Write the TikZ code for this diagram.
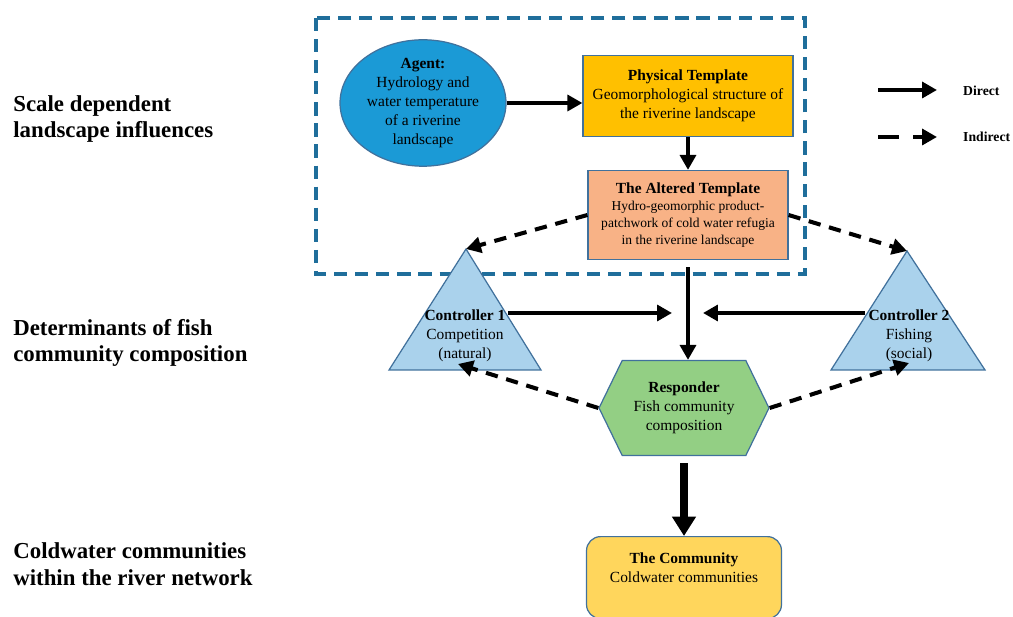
\documentclass[tikz,border=0pt]{standalone}
\usepackage{fontspec}
\setmainfont{Liberation Serif}
\usetikzlibrary{shapes.geometric,shapes.symbols,arrows.meta,positioning}

\definecolor{frameblue}{RGB}{31,110,155}
\definecolor{edgeblue}{RGB}{65,113,156}
\definecolor{agentblue}{RGB}{27,154,214}
\definecolor{physgold}{RGB}{255,192,0}
\definecolor{altpeach}{RGB}{248,178,134}
\definecolor{ctrlblue}{RGB}{170,210,236}
\definecolor{respgreen}{RGB}{147,207,132}
\definecolor{commyellow}{RGB}{255,214,92}

\tikzset{
  txt/.style={align=center, font=\fontsize{8.8}{10.8}\selectfont},
  box/.style={txt, draw=edgeblue, line width=0.7pt, inner sep=1pt},
  ctrlshape/.style={fill=ctrlblue, draw=edgeblue, line width=0.7pt},
  sidelabel/.style={anchor=west, align=left, inner sep=0pt, font=\bfseries\fontsize{13}{15.2}\selectfont},
  keylabel/.style={anchor=west, font=\bfseries\fontsize{7.8}{9}\selectfont},
  dashframe/.style={draw=frameblue, line width=1.8pt, dash pattern=on 7.5pt off 4.5pt},
  direct/.style={-{Triangle[length=8.5pt,width=9pt]}, line width=2.3pt},
  indirect/.style={direct, dash pattern=on 7pt off 5pt},
  heavy/.style={-{Triangle[length=11pt,width=13pt]}, line width=4pt},
}

\begin{document}
\begin{tikzpicture}[x=0.02cm, y=-0.02cm]
    \useasboundingbox (0,0) rectangle (1013,617);
    \clip (0,0) rectangle (1013,617);

    \node[sidelabel] (scale) at (13,119) {Scale dependent\\landscape influences};
    \node[sidelabel] (determ) at (13,343) {Determinants of fish\\community composition};
    \node[sidelabel] (cold) at (13,564) {Coldwater communities\\within the river network};

    \draw[dashframe] (316,18) rectangle (805,274);

    \node[box, ellipse, fill=agentblue, minimum width=3.32cm, minimum height=2.1cm, inner sep=0pt] (agent) at (423,103)
        {\textbf{Agent:}\\Hydrology and\\water temperature\\of a riverine\\landscape};
    \node[box, fill=physgold, minimum width=4.2cm, minimum height=1.62cm] (phys) at (688,96)
        {\textbf{Physical Template}\\Geomorphological structure of\\the riverine landscape};
    \node[box, fill=altpeach, minimum width=4.0cm, minimum height=1.78cm, font=\fontsize{7.7}{9.6}\selectfont] (alt) at (688,215)
        {\textbf{\fontsize{8.8}{12}\selectfont The Altered Template}\\Hydro-geomorphic product-\\patchwork of cold water refugia\\in the riverine landscape};

    \coordinate (c1 apex) at (466,249);
    \coordinate (c1 left) at (389,370);
    \coordinate (c1 right) at (541,370);
    \coordinate (c2 apex) at (907,251);
    \coordinate (c2 left) at (831,370);
    \coordinate (c2 right) at (985,370);
    \draw[ctrlshape] (c1 apex) -- (c1 left) -- (c1 right) -- cycle;
    \draw[ctrlshape] (c2 apex) -- (c2 left) -- (c2 right) -- cycle;
    \node[txt] (ctrl1) at (465,336) {\textbf{Controller 1}\\Competition\\(natural)};
    \node[txt] (ctrl2) at (909,336) {\textbf{Controller 2}\\Fishing\\(social)};

    \node[box, signal, signal to=east and west, signal pointer angle=128, fill=respgreen, minimum width=3.4cm, minimum height=1.9cm, inner sep=0pt] (resp) at (684,408)
        {\textbf{Responder}\\Fish community\\composition};

    \node[box, fill=commyellow, rounded corners=8pt, minimum width=3.9cm, minimum height=1.64cm, anchor=north] (comm) at (684,536)
        {\textbf{The Community}\\Coldwater communities\\\mbox{}};

    \coordinate (c1 out) at (508,313);
    \coordinate (c2 out) at (865,313);
    \coordinate (mid w) at (672,313);
    \coordinate (mid e) at (703,313);
    \coordinate (c1 in) at (458,364);
    \coordinate (c2 in) at (909,363);

    \draw[direct] (agent.east) -- (agent.east -| phys.west);
    \draw[direct] (phys.south) -- (alt.north);
    \draw[direct, shorten <=4pt] (alt.south) -- (alt.south |- resp.north);
    \draw[indirect] (alt.west) -- (c1 apex);
    \draw[indirect] (alt.east) -- (c2 apex);
    \draw[direct] (c1 out) -- (mid w);
    \draw[direct] (c2 out) -- (mid e);
    \draw[indirect] (resp.west) -- (c1 in);
    \draw[indirect] (resp.east) -- (c2 in);
    \draw[heavy, shorten <=4pt] (resp.south) -- (comm.north);

    \coordinate (key1 a) at (878,90);
    \coordinate (key1 b) at (937,90);
    \coordinate (key2 a) at (878,137);
    \coordinate (key2 b) at (937,137);
    \draw[direct] (key1 a) -- (key1 b);
    \draw[direct, dash pattern=on 12pt off 8pt] (key2 a) -- (key2 b);
    \node[keylabel] (keydirect) at (957,91) {Direct};
    \node[keylabel] (keyindirect) at (957,137) {Indirect};
\end{tikzpicture}
\end{document}
